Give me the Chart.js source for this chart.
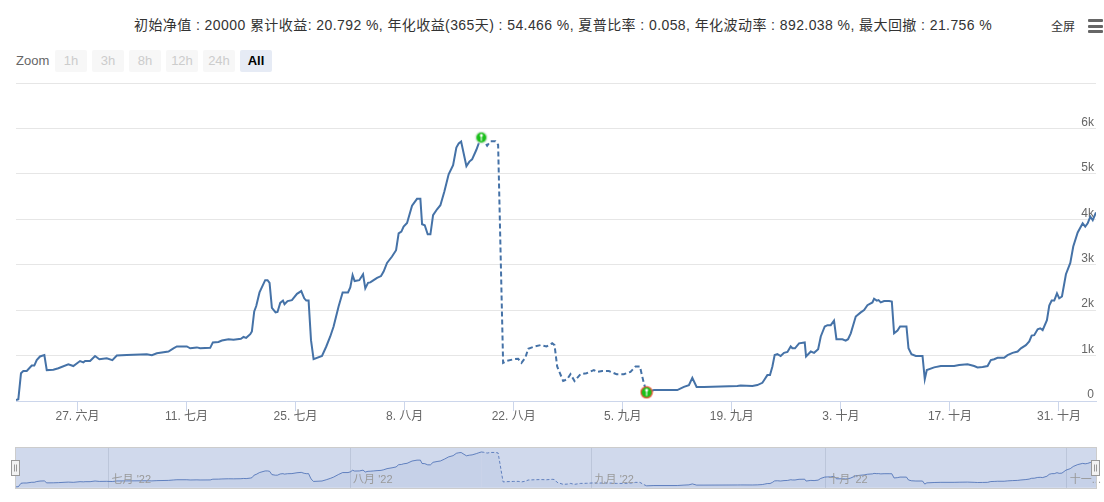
<!DOCTYPE html>
<html><head><meta charset="utf-8">
<script src="https://cdn.jsdelivr.net/npm/chart.js@4.4.1/dist/chart.umd.min.js"></script>
<style>
html,body{margin:0;padding:0;background:#fff;width:1104px;height:502px;overflow:hidden;font-family:"Liberation Sans","Noto Sans CJK SC",sans-serif;}
#title{position:absolute;left:134px;top:14px;font-size:14px;letter-spacing:0.42px;color:#333;white-space:nowrap;}
#full{position:absolute;left:1051px;top:17px;font-size:12px;color:#333;}
#menu{position:absolute;left:1088px;top:19px;width:15px;}
#menu div{height:3px;background:#666;margin-bottom:2.5px;border-radius:1px;}
#zoomlbl{position:absolute;left:16px;top:53px;font-size:13px;color:#666;}
.btn{position:absolute;top:50px;width:32px;height:22px;line-height:22px;text-align:center;font-size:13px;border-radius:2px;background:#f7f7f7;color:#ccc;}
.btn.sel{background:#e6ebf5;color:#000;font-weight:bold;}
#main{position:absolute;left:0;top:75px;}
#nav{position:absolute;left:0;top:440px;}
</style></head>
<body>
<div id="title">初始净值 : 20000 累计收益: 20.792 %, 年化收益(365天) : 54.466 %, 夏普比率 : 0.058, 年化波动率 : 892.038 %, 最大回撤 : 21.756 %</div>
<div id="full">全屏</div>
<div id="menu"><div></div><div></div><div></div></div>
<div id="zoomlbl">Zoom</div>
<div id="btns"></div>
<canvas id="main" width="1104" height="356"></canvas>
<canvas id="nav" width="1104" height="56"></canvas>
<script>
// ---- data (x = days since startDate) ----
const startDate = '2022-06-19';
const days = [0.11,0.41,0.75,1.05,1.49,2.13,2.46,2.77,3.19,3.75,4.06,4.90,5.55,6.83,7.47,8.33,8.76,8.98,9.62,10.26,10.81,11.76,12.48,13.05,14.33,16.90,17.55,18.19,19.68,20.32,20.76,22.04,22.47,23.33,23.75,25.04,25.38,26.10,26.54,27.39,28.03,28.98,29.32,29.66,30.18,30.39,30.69,30.95,31.37,32.10,32.40,32.66,32.96,33.43,33.68,34.03,34.38,34.58,34.97,35.53,36.18,36.73,37.11,37.37,37.67,37.98,38.31,39.39,39.94,40.45,40.88,41.52,42.04,42.73,43.02,43.32,43.58,44.18,44.66,44.95,45.30,
45.59,46.02,46.46,46.97,47.30,47.74,48.38,48.90,49.23,49.58,49.87,50.31,50.95,51.59,52.02,52.24,52.58,52.96,53.31,53.65,54.16,54.59,55.10,55.65,56.22,56.64,56.94,57.25,57.93,58.31,58.66,59.21,59.51,59.85,60.15,60.59,61.01,61.65,62.00,62.64,63.07,64.00,64.57,65.00,65.51,65.86,66.67,67.44,68.21,68.94,69.24,69.58,70.35,70.87,71.29,71.81,72.58,73.35,74.29,74.72,75.36,76.21,77.20,78.14,78.99,79.64,80.20,80.71,81.06,82.00,85.00,85.85,86.49,86.93,87.48,88.42,92.71,93.13,
94.64,95.28,95.92,96.22,96.56,96.90,97.21,97.50,97.85,98.27,98.70,99.14,99.56,99.78,100.11,100.63,101.36,101.53,102.14,102.56,103.08,103.42,103.93,104.28,104.70,105.12,105.43,106.20,106.62,106.92,107.27,107.91,108.55,108.98,109.41,110.05,110.26,110.61,110.83,111.12,111.55,112.19,112.54,112.83,113.27,113.60,114.42,114.68,115.06,115.62,116.48,116.77,117.03,117.97,118.83,120.54,121.18,122.26,123.11,123.54,124.19,124.83,125.25,125.68,126.11,126.96,127.40,128.04,128.69,129.11,129.75,130.18,130.49,130.82,131.26,131.59,131.90,132.45,132.75,133.06,133.39,133.74,134.03,134.38,134.89,135.45,135.83,136.40,137.04,137.37,137.68,138.02,138.33,138.75];
const values = [20,40,610,660,660,780,780,900,980,1010,680,690,720,810,770,880,850,880,880,990,920,940,900,1000,1010,1030,1010,1050,1090,1160,1200,1200,1160,1180,1160,1170,1290,1300,1330,1360,1350,1370,1410,1390,1470,1530,1970,2090,2390,2660,2660,2600,2050,1950,1960,2160,2210,2130,2200,2220,2360,2420,2260,2210,2210,1340,920,990,1200,1420,1640,2080,2390,2390,2500,2770,2640,2660,2790,2480,2600,
2610,2660,2710,2750,2850,3040,3180,3320,3690,3730,3840,3920,4300,4450,4450,3890,3870,3670,3670,4090,4220,4310,4610,4990,5190,5580,5670,5710,5170,5270,5320,5530,5670,5800,5750,5620,5720,5720,5640,840,880,920,930,840,960,1150,1200,1230,1200,1270,1230,760,440,480,590,440,590,610,680,640,660,660,590,590,640,760,760,390,190,240,240,310,350,510,310,310,330,340,
330,350,400,480,570,570,760,1010,1030,990,1060,1080,1200,1160,1160,1270,1290,980,1090,1060,1140,1420,1640,1670,1670,1770,1360,1360,1330,1360,1490,1860,1950,2000,2110,2170,2250,2210,2220,2170,2200,2200,2190,1490,1550,1640,1640,1160,1030,990,990,480,680,740,770,770,790,810,770,740,750,770,900,920,950,950,1010,1060,1090,1160,1230,1310,1440,1450,1580,1600,1560,1780,2100,2210,2210,2370,2260,2300,2790,3040,3400,3710,3910,3840,3910,4060,3980,4150];
const tickDays = [8,22,36,50,64,78,92,106,120,134];
const tickLabels = ['27. 六月','11. 七月','25. 七月','8. 八月','22. 八月','5. 九月','19. 九月','3. 十月','17. 十月','31. 十月'];
const yTicks = [0,1000,2000,3000,4000,5000,6000,7000];
const yTickLabels = ['0','1k','2k','3k','4k','5k','6k',''];
const navDays = [12,43,74,104,135];
const navLabels = ["七月 '22","八月 '22","九月 '22","十月 '22","十一..."];
const rangeButtons = ['1h','3h','8h','12h','24h','All'];

// range selector buttons
const btns = document.getElementById('btns');
rangeButtons.forEach((b,i)=>{
  const d=document.createElement('div'); d.className='btn'+(b==='All'?' sel':'');
  d.style.left=(55+i*37)+'px'; d.textContent=b; btns.appendChild(d);
});

// peak / max drawdown trough
let peakIdx=0; values.forEach((v,i)=>{ if(v>values[peakIdx]) peakIdx=i; });
let troughIdx=peakIdx; for(let i=peakIdx;i<values.length;i++){ if(values[i]<values[troughIdx]) troughIdx=i; }

const pts = days.map((d,i)=>({x:d,y:values[i]}));
const FONT = '"Liberation Sans","Noto Sans CJK SC",sans-serif';
const LINE = '#4572a7';

function flag(stroke){
  const c=document.createElement('canvas'); c.width=14; c.height=14;
  const g=c.getContext('2d');
  g.beginPath(); g.arc(7,7,5.6,0,Math.PI*2); g.fillStyle='#19c019'; g.fill();
  g.lineWidth=1.3; g.strokeStyle=stroke; g.stroke();
  g.strokeStyle='#fff'; g.lineWidth=1.1; g.beginPath(); g.moveTo(7,5); g.lineTo(7,10.5); g.stroke();
  g.beginPath(); g.arc(7,4.8,1.5,0,Math.PI*2); g.fillStyle='#fff'; g.fill();
  return c;
}
const dashSeg = ctx => (ctx.p0DataIndex>=peakIdx && ctx.p1DataIndex<=troughIdx) ? [5,3] : undefined;

new Chart(document.getElementById('main'), {
  type:'line',
  data:{datasets:[
    {type:'scatter', data:[pts[peakIdx],pts[troughIdx]], pointStyle:[flag('#d8e8d8'),flag('#e8553a')], pointRadius:6, order:0},
    {data:pts, borderColor:LINE, borderWidth:2, pointRadius:0, tension:0, fill:false,
     segment:{borderDash:dashSeg}, order:1}
  ]},
  options:{
    responsive:false, animation:false, events:[],
    layout:{padding:{left:16,right:8,top:8,bottom:0}},
    plugins:{legend:{display:false},tooltip:{enabled:false}},
    scales:{
      x:{type:'linear', min:days[0], max:days[days.length-1],
        afterBuildTicks:s=>{s.ticks=tickDays.map(v=>({value:v}));},
        afterFit:s=>{s.height=30;},
        ticks:{autoSkip:false, maxRotation:0, padding:-2, color:'#666', font:{family:FONT,size:12},
          callback:v=>tickLabels[tickDays.indexOf(v)]},
        grid:{drawOnChartArea:false, drawTicks:true, tickLength:10, color:'#ccd6eb'},
        border:{color:'#ccd6eb'}},
      y:{position:'right', min:0, max:7000,
        afterBuildTicks:s=>{s.ticks=yTicks.map(v=>({value:v}));},
        afterFit:s=>{s.width=0;},
        ticks:{mirror:true, padding:-2, labelOffset:-6, color:'#666', font:{family:FONT,size:12},
          callback:v=>yTickLabels[yTicks.indexOf(v)]},
        grid:{color:'#e6e6e6', drawTicks:false},
        border:{display:false}}
    }
  }
});

const navPlugin = {
  id:'navdeco',
  beforeDraw(c){ const a=c.chartArea, g=c.ctx; g.save(); g.fillStyle='#d0d9ec'; g.fillRect(a.left,a.top,a.right-a.left,a.bottom-a.top); g.restore(); },
  afterDraw(c){
    const a=c.chartArea, g=c.ctx, xs=c.scales.x;
    g.save();
    g.font='11px '+FONT; g.fillStyle='#999'; g.textBaseline='middle';
    navDays.forEach((d,i)=>{ g.fillText(navLabels[i], xs.getPixelForValue(d)+3, a.bottom-8); });
    g.strokeStyle='#cccccc'; g.lineWidth=1; g.strokeRect(a.left-0.5,a.top-0.5,a.right-a.left+1,a.bottom-a.top+1);
    [a.left,a.right].forEach(x=>{
      const hx=Math.round(x)-4.5, hy=a.top+12.5;
      g.fillStyle='#f2f2f2'; g.strokeStyle='#999'; g.fillRect(hx,hy,8,15); g.strokeRect(hx,hy,8,15);
      g.beginPath(); g.moveTo(hx+3,hy+4); g.lineTo(hx+3,hy+11); g.moveTo(hx+5,hy+4); g.lineTo(hx+5,hy+11); g.stroke();
    });
    g.restore();
  }
};
new Chart(document.getElementById('nav'), {
  type:'line',
  data:{datasets:[{data:pts, borderColor:'rgba(51,92,173,0.7)', backgroundColor:'rgba(51,92,173,0.06)', borderWidth:1, pointRadius:0, tension:0, fill:'origin', segment:{borderDash:ctx=>dashSeg(ctx)?[3,2]:undefined}}]},
  options:{
    responsive:false, animation:false, events:[],
    layout:{padding:{left:16,right:8,top:8,bottom:8}},
    plugins:{legend:{display:false},tooltip:{enabled:false}},
    scales:{
      x:{type:'linear', min:days[0], max:days[days.length-1],
        afterBuildTicks:s=>{s.ticks=navDays.map(v=>({value:v}));},
        afterFit:s=>{s.height=0;},
        ticks:{display:false}, grid:{color:'#bcc6da', drawTicks:false}, border:{display:false}},
      y:{display:false, min:-170, max:6460}
    }
  },
  plugins:[navPlugin]
});
</script>
</body></html>
